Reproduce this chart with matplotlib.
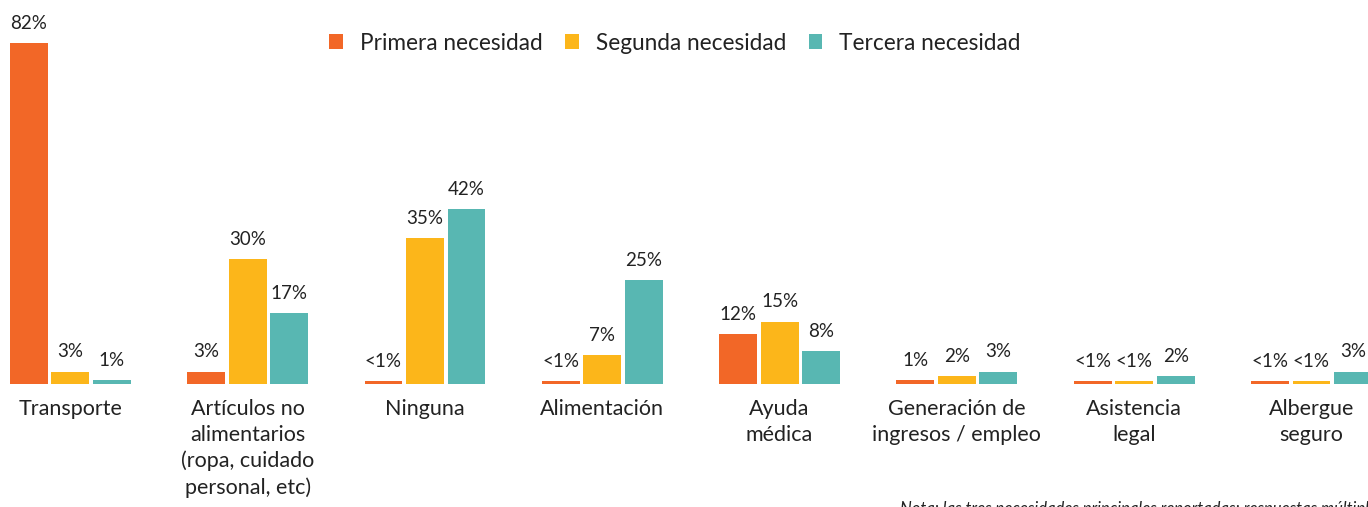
import numpy as np
import matplotlib
matplotlib.use('agg')
import matplotlib.pyplot as plt

plt.rcParams['font.family'] = ['Lato', 'DejaVu Sans']

# Data
categories = ['Transporte', 'Artículos no\nalimentarios\n(ropa, cuidado\npersonal, etc)',
              'Ninguna', 'Alimentación', 'Ayuda\nmédica',
              'Generación de\ningresos / empleo', 'Asistencia\nlegal', 'Albergue\nseguro']
series_names = ['Primera necesidad', 'Segunda necesidad', 'Tercera necesidad']
primera = [82, 3, 0.8, 0.8, 12, 1, 0.8, 0.8]
segunda = [3, 30, 35, 7, 15, 2, 0.8, 0.8]
tercera = [1, 17, 42, 25, 8, 3, 2, 3]
primera_lbl = ['82%', '3%', '<1%', '<1%', '12%', '1%', '<1%', '<1%']
segunda_lbl = ['3%', '30%', '35%', '7%', '15%', '2%', '<1%', '<1%']
tercera_lbl = ['1%', '17%', '42%', '25%', '8%', '3%', '2%', '3%']
colors = ['#F26727', '#FCB61A', '#58B7B2']
note = 'Nota: las tres necesidades principales reportadas; respuestas múltiples permitidas'

fig = plt.figure(figsize=(13.68, 5.07), dpi=100)
ax = fig.add_axes([0, 0.2426, 1, 0.7574])

x = np.arange(len(categories))
step = 0.234
width = 0.214
for k, (vals, lbls) in enumerate(zip((primera, segunda, tercera),
                                     (primera_lbl, segunda_lbl, tercera_lbl))):
    pos = x + (k - 1) * step
    bars = ax.bar(pos, vals, width, color=colors[k], label=series_names[k])
    for b, lab in zip(bars, lbls):
        ax.annotate(lab, (b.get_x() + b.get_width() / 2, b.get_height()),
                    xytext=(0, 8), textcoords='offset points',
                    ha='center', va='bottom', fontsize=13.5, color='#222222')

ax.set_xlim(-0.397, -0.397 + 1368 / 177.3)
ax.set_ylim(0, 92.3)
ax.set_xticks(x)
ax.set_xticklabels(categories, fontsize=15.5, color='#222222', linespacing=1.35)
ax.tick_params(axis='x', length=0, pad=11)
ax.set_yticks([])
for s in ax.spines.values():
    s.set_visible(False)

fig.legend(loc='center', bbox_to_anchor=(675 / 1368, 1 - 43 / 507), ncol=3,
           frameon=False, fontsize=16.3, handlelength=0.6, handleheight=0.6,
           handletextpad=0.75, columnspacing=1.0, labelcolor='#222222')

# note at the bottom, mostly below the figure edge as in the source
fig.text(900 / 1368, 0.012, note, fontsize=12, style='italic', color='#222222',
         ha='left', va='top')

fig.savefig('out.png', dpi=100)
